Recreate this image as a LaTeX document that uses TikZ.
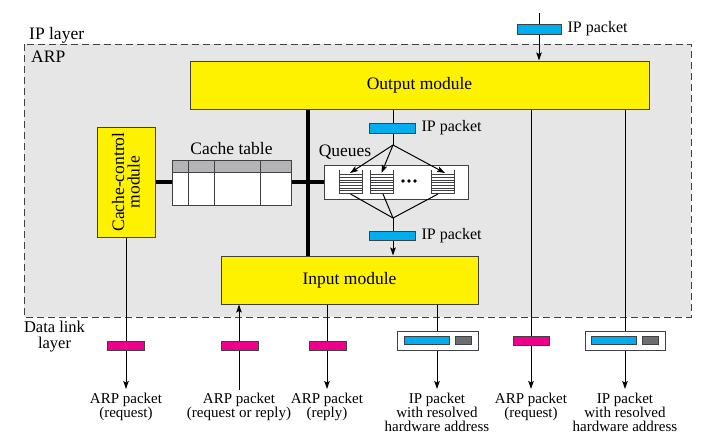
\documentclass[tikz,border=0pt]{standalone}
\usepackage{fontspec}
\setmainfont{Liberation Serif}
\usetikzlibrary{arrows.meta,positioning}
\definecolor{modyellow}{RGB}{255,242,0}
\definecolor{ipblue}{RGB}{0,174,239}
\definecolor{arppink}{RGB}{236,0,140}
\definecolor{hwgray}{RGB}{109,110,113}
\definecolor{arpgray}{RGB}{230,230,230}
\definecolor{edgegray}{RGB}{65,64,66}
\definecolor{headgray}{RGB}{180,180,182}

\tikzset{
  module/.style={draw=edgegray, line width=1pt, fill=modyellow, inner sep=0pt},
  ippkt/.style={draw=edgegray, line width=0.8pt, fill=ipblue, minimum width=46, minimum height=10, inner sep=0pt},
  arppkt/.style={draw=edgegray, line width=0.8pt, fill=arppink, minimum width=37, minimum height=9, inner sep=0pt},
  hwpkt/.style={draw=edgegray, line width=0.8pt, fill=white, minimum width=81, minimum height=19, inner sep=0pt},
  hwaddr/.style={draw=edgegray, line width=0.8pt, fill=hwgray, minimum width=16, minimum height=8, inner sep=0pt},
  bus/.style={line width=4pt, black},
  wire/.style={line width=1pt, black},
  flow/.style={wire, -{Stealth[length=8pt,width=5.5pt,inset=1.5pt]}},
  lbl/.style={font=\fontsize{17.5}{15.5}\selectfont, inner sep=0pt, align=center},
  pktlbl/.style={font=\fontsize{16}{15}\selectfont, inner sep=0pt},
  outlbl/.style={font=\fontsize{15}{14.2}\selectfont, inner sep=0pt, align=center, anchor=north},
}

\begin{document}
\begin{tikzpicture}[x=1pt, y=-1pt]
  \useasboundingbox (0,0) rectangle (709,447);

  % ARP region inside the IP layer
  \fill[arpgray] (24,44) rectangle (691,317);
  \draw[edgegray, line width=1pt, dash pattern=on 7pt off 4pt] (24,44) rectangle (691,317);
  \node[lbl, anchor=base west] (iplayer) at (29,39) {IP layer};
  \node[lbl, anchor=base west] (arp) at (31,62) {ARP};
  \node[lbl, anchor=north, font=\fontsize{16.5}{15.5}\selectfont] (datalink) at (54.5,321) {Data link\\layer};

  % Modules
  \node[module, minimum width=459, minimum height=48] (output) at (419.5,85) {};
  \node[lbl] at (output) {Output module};
  \node[module, minimum width=257, minimum height=48] (input) at (349.5,280) {};
  \node[lbl] at (input) {Input module};
  \node[module, minimum width=58, minimum height=110] (cachectl) at (126,182) {};
  \node[lbl, rotate=90] at (cachectl) {Cache-control\\module};

  % Queues
  \node[draw=edgegray, line width=0.8pt, fill=white, minimum width=144, minimum height=34, inner sep=0pt] (queues) at (396,182) {};
  \node[lbl, anchor=base west] at ([xshift=-5pt, yshift=8pt]queues.north west) {Queues};

  % Bus lines
  \coordinate (busx) at (308,0);
  \draw[bus] (cachectl.east) -- (queues.west);
  \draw[bus] (output.south -| busx) -- (input.north -| busx);

  % Cache table
  \node[draw=edgegray, line width=0.8pt, fill=white, minimum width=119, minimum height=45, inner sep=0pt] (cachetab) at (231.5,182.5) {};
  \fill[headgray] (172,160) rectangle (291,172);
  \draw[edgegray, line width=0.8pt] (172,160) rectangle (291,205);
  \draw[edgegray, line width=0.8pt] (172,172) -- (291,172);
  \foreach \cx in {188,214,260}
    \draw[edgegray, line width=0.8pt] (\cx,160) -- (\cx,205);
  \node[lbl, anchor=base] at ([yshift=5pt]cachetab.north) {Cache table};

  \foreach \qx [count=\i] in {339,370,431} {
    \draw[edgegray, line width=0.8pt] (\qx,170) -- (\qx,193) -- (\qx+23,193) -- (\qx+23,170);
    \foreach \k in {0,...,6}
      \draw[edgegray, line width=0.6pt] (\qx,174.5+2.7*\k) -- (\qx+23,174.5+2.7*\k);
    \coordinate (qt\i) at (\qx+11.5,173);
    \coordinate (qb\i) at (\qx+11.5,194);
  }
  \foreach \dx in {403,409,415}
    \fill (\dx,181) circle (1.8pt);

  % Connectors inside ARP
  \coordinate (ipin) at (539,13);
  \coordinate (fork) at (393,145);
  \coordinate (merge) at (393,218);
  \draw[flow] (ipin) -- (output.north -| ipin);
  \draw[wire] (output.south -| fork) -- (fork);
  \draw[flow] (fork) -- (350,173);
  \draw[flow] (fork) -- (qt2);
  \draw[flow] (fork) -- (445,173);
  \draw[wire] (qb1) -- (merge);
  \draw[wire] (383,194) -- (merge);
  \draw[wire] (438,194) -- (merge);
  \draw[flow] (merge) -- (input.north -| merge);

  % Connectors to the data link layer
  \coordinate (out1) at (126,389);
  \coordinate (in2) at (239,390);
  \coordinate (out3) at (327,389);
  \coordinate (out4) at (437,389);
  \coordinate (out5) at (531,389);
  \coordinate (out6) at (625,389);
  \draw[flow] (cachectl.south) -- (out1);
  \draw[flow] (in2) -- (input.south -| in2);
  \draw[flow] (input.south -| out3) -- (out3);
  \draw[flow] (input.south -| out4) -- (out4);
  \draw[flow] (output.south -| out5) -- (out5);
  \draw[flow] (output.south -| out6) -- (out6);

  % Packets
  \node[ippkt, minimum width=44] (ippktA) at (539,29) {};
  \node[pktlbl, right=6pt of ippktA] {IP packet};
  \node[ippkt] (ippktB) at (392,128) {};
  \node[pktlbl, right=6pt of ippktB] {IP packet};
  \node[ippkt, minimum height=9] (ippktC) at (392,235.5) {};
  \node[pktlbl, right=6pt of ippktC] {IP packet};

  \node[arppkt] (arpA) at (125.5,345.5) {};
  \node[arppkt] (arpB) at (239.5,345.5) {};
  \node[arppkt] (arpC) at (327.5,345.5) {};
  \node[arppkt, minimum width=36] (arpD) at (531,340.5) {};
  \node[hwpkt] (hwA) at (437.5,340.5) {};
  \node[hwpkt, minimum width=80] (hwB) at (625,340.5) {};
  \foreach \hw in {hwA,hwB} {
    \node[ippkt, minimum width=45, minimum height=8] at ([xshift=-11]\hw.center) {};
    \node[hwaddr] at ([xshift=25.5]\hw.center) {};
  }

  % Labels below
  \node[outlbl] at (126,392.5) {ARP packet\\(request)};
  \node[outlbl] at (239,392.5) {ARP packet\\(request or reply)};
  \node[outlbl] at (327,392.5) {ARP packet\\(reply)};
  \node[outlbl] at (437,392.5) {IP packet\\with resolved\\hardware address};
  \node[outlbl] at (531,392.5) {ARP packet\\(request)};
  \node[outlbl] at (625,392.5) {IP packet\\with resolved\\hardware address};
\end{tikzpicture}
\end{document}
